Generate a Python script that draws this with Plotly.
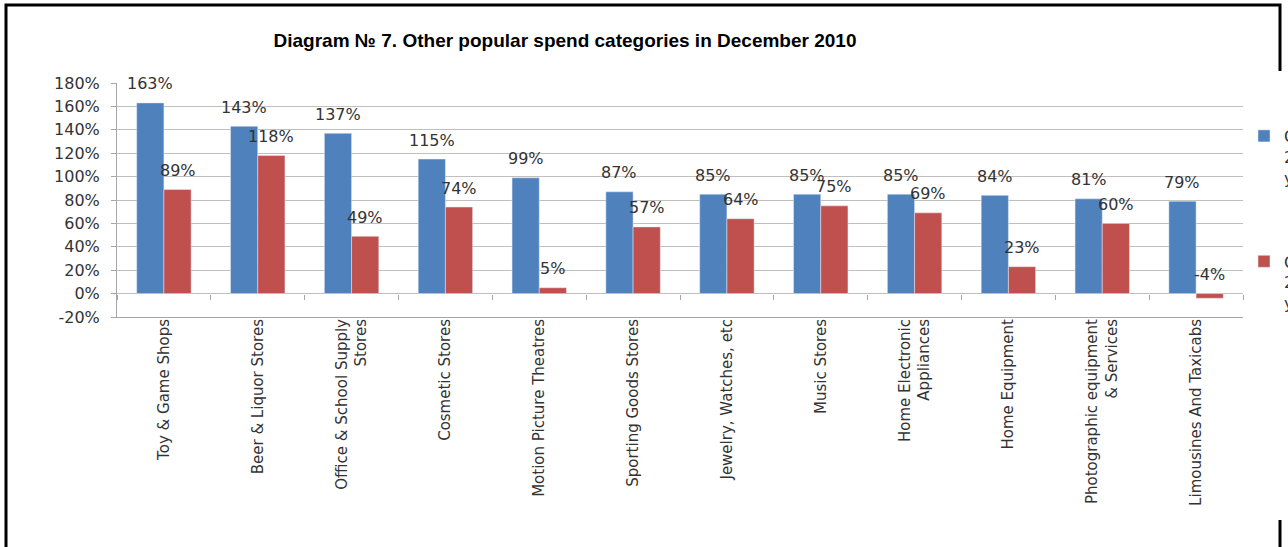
import plotly.graph_objects as go

categories = [
    "Toy & Game Shops",
    "Beer & Liquor Stores",
    "Office & School Supply<br>Stores",
    "Cosmetic Stores",
    "Motion Picture Theatres",
    "Sporting Goods Stores",
    "Jewelry, Watches, etc",
    "Music Stores",
    "Home Electronic<br>Appliances",
    "Home Equipment",
    "Photographic equipment<br>& Services",
    "Limousines And Taxicabs",
]
series1_name = "Change<br>2010/2009,<br>year-on-year"
series2_name = "Change<br>2009/2008,<br>year-on-year"
series1 = [163, 143, 137, 115, 99, 87, 85, 85, 85, 84, 81, 79]
series2 = [89, 118, 49, 74, 5, 57, 64, 75, 69, 23, 60, -4]
y_ticks = [-20, 0, 20, 40, 60, 80, 100, 120, 140, 160, 180]
y_tick_labels = [f"{v}%" for v in y_ticks]

W, H = 1288, 547
ML, MR, MT, MB = 117, 45, 83, 230
PW, PH = W - ML - MR, H - MT - MB
BARGAP = 0.42
BLUE, RED = "#4F81BD", "#C0504D"
FONT = "DejaVu Sans"
TXT = "#333333"


def px_x(px):
    return (px - ML) / PW


def px_y(py):
    return (H - MB - py) / PH


fig = go.Figure()
fig.add_trace(go.Bar(x=categories, y=series1, name=series1_name, marker_color=BLUE,
                     legendgroup="a", hoverinfo="skip"))
fig.add_trace(go.Bar(x=categories, y=series2, name=series2_name, marker_color=RED,
                     legendgroup="b", hoverinfo="skip"))

bar_px = PW / len(categories) * (1 - BARGAP) / 2
annotations = []
for vals, sh in ((series1, -bar_px / 2), (series2, bar_px / 2)):
    for c, v in zip(categories, vals):
        annotations.append(dict(x=c, y=max(v, 0), xref="x", yref="y", text=f"{v}%",
                                showarrow=False, xshift=sh, yshift=19,
                                font=dict(family=FONT, size=16, color=TXT)))

n = len(categories)
zero_pos = (0 - y_ticks[0]) / (y_ticks[-1] - y_ticks[0])

shapes = [
    dict(type="rect", xref="paper", yref="paper",
         x0=px_x(6), x1=px_x(1280), y0=px_y(570), y1=px_y(5),
         line=dict(color="black", width=3), fillcolor="rgba(0,0,0,0)", layer="above"),
    dict(type="rect", xref="paper", yref="paper",
         x0=px_x(1262), x1=px_x(1295), y0=px_y(520), y1=px_y(71),
         line=dict(width=0), fillcolor="white", layer="above"),
]

fig.update_layout(
    width=W, height=H,
    margin=dict(l=ML, r=MR, t=MT, b=MB, pad=0, autoexpand=False),
    paper_bgcolor="white", plot_bgcolor="white",
    barmode="group", bargap=BARGAP, bargroupgap=0,
    title=dict(text="<b>Diagram № 7. Other popular spend categories in December 2010</b>",
               x=px_x(565), xref="paper", xanchor="center",
               y=1 - 40 / H, yref="container", yanchor="middle",
               font=dict(family="Liberation Sans, Arial", size=19, color="black")),
    xaxis=dict(type="category", categoryorder="array", categoryarray=categories,
               tickangle=-90, tickfont=dict(family=FONT, size=15, color=TXT),
               showline=True, linecolor="#a6a6a6", linewidth=1, ticks="",
               showgrid=False, automargin=False, ticklabelstandoff=-5),
    xaxis2=dict(overlaying="x", anchor="free", position=zero_pos, type="linear",
                range=[-0.5, n - 0.5], tickvals=[i - 0.5 for i in range(n + 1)],
                ticks="outside", ticklen=5, tickcolor="#a6a6a6", showticklabels=False,
                showgrid=False, zeroline=False, showline=False),
    yaxis=dict(range=[y_ticks[0], y_ticks[-1]], tickvals=y_ticks, ticktext=y_tick_labels,
               tickfont=dict(family=FONT, size=16, color=TXT),
               showgrid=True, gridcolor="#bfbfbf", gridwidth=1,
               zeroline=False, showline=True, linecolor="#a6a6a6", linewidth=1,
               ticks="outside", ticklen=5, tickcolor="#a6a6a6", ticklabelstandoff=8,
               automargin=False),
    showlegend=True,
    legend=dict(x=px_x(1244), xref="paper", xanchor="left",
                y=px_y(119), yref="paper", yanchor="top",
                bgcolor="white", borderwidth=0, valign="top",
                traceorder="grouped", tracegroupgap=60,
                font=dict(family=FONT, size=16, color=TXT)),
    annotations=annotations,
    shapes=shapes,
)

# invisible helper trace so xaxis2 renders its tick marks on the 0% line
fig.add_trace(go.Scatter(x=[None], y=[None], xaxis="x2", yaxis="y",
                         showlegend=False, hoverinfo="skip"))

fig.write_html("out.html")
